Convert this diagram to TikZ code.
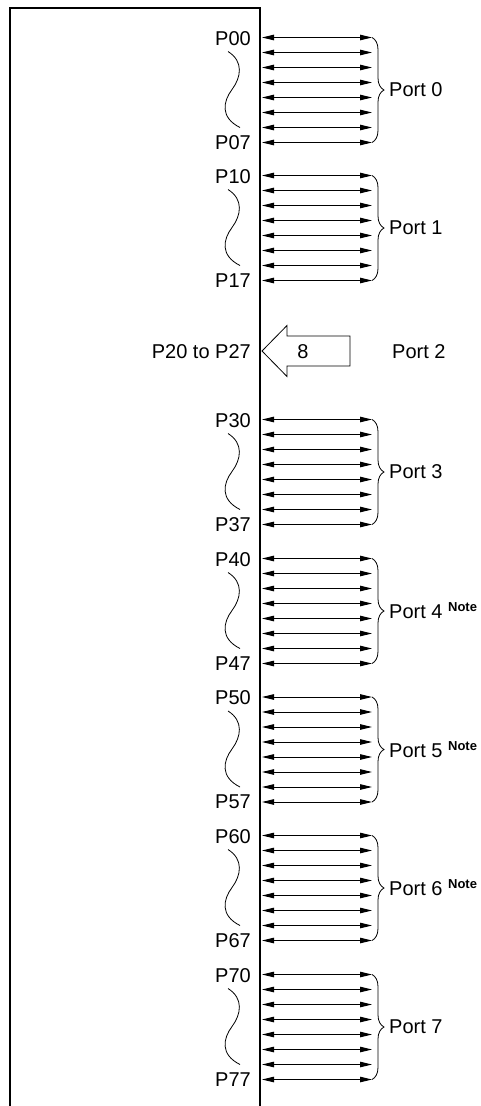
\documentclass[tikz,border=0pt]{standalone}
\usepackage{fontspec}
\setmainfont{Liberation Sans}
\usetikzlibrary{arrows.meta,decorations.pathreplacing}
\newcommand\notesup{\raisebox{7pt}{\fontsize{13}{13}\selectfont\bfseries Note}}
\begin{document}
\begin{tikzpicture}[x=1pt,y=-1pt,
  lbl/.style={inner sep=0pt,font=\fontsize{20}{20}\selectfont},
  sig/.style={line width=0.9pt,{Triangle[length=12pt,width=5.5pt]}-{Triangle[length=12pt,width=5.5pt]}},
  brc/.style={decorate,decoration={brace,amplitude=12pt},line width=0.8pt},
  wave/.style={line width=0.8pt},
  chip/.style={line width=2.5pt},
  bigarrow/.style={line width=0.8pt}]
\useasboundingbox (0,0) rectangle (481,1106);
\draw[chip] (10,1106) -- (10,8) -- (260,8) -- (260,1106);
\foreach \n/\s in {0/37.5,1/175.5,3/419.5,4/558.5,5/697,6/835.5,7/974.5}{
  \foreach \i in {0,...,7}{
    \coordinate (a\n\i) at (262,\s+15*\i);
    \coordinate (b\n\i) at (372,\s+15*\i);
    \draw[sig] (a\n\i) -- (b\n\i);
  }
  \node[lbl,anchor=east] (p\n0) at (251,\s+1) {P\n0};
  \node[lbl,anchor=east] (p\n7) at (251,\s+105) {P\n7};
  \draw[wave] (228,\s+14) .. controls (244,\s+24) and (241,\s+40) .. (232,\s+52)
              .. controls (223,\s+64) and (220,\s+80) .. (240,\s+90);
  \draw[brc] (b\n0) -- (b\n7);
}
\node[lbl,anchor=west] (port0) at (389,90) {Port 0};
\node[lbl,anchor=west] (port1) at (389,228) {Port 1};
\node[lbl,anchor=west] (port3) at (389,472) {Port 3};
\node[lbl,anchor=west] (port4) at (389,611) {Port 4 \notesup};
\node[lbl,anchor=west] (port5) at (389,749.5) {Port 5 \notesup};
\node[lbl,anchor=west] (port6) at (389,888) {Port 6 \notesup};
\node[lbl,anchor=west] (port7) at (389,1027) {Port 7};
% Port 2
\draw[bigarrow] (262,351) -- (287,325.5) -- (287,336) -- (350,336) -- (350,366)
   -- (287,366) -- (287,376.5) -- cycle;
\node[lbl] (eight) at (303,352) {8};
\node[lbl,anchor=east] (p2) at (251,352) {P20 to P27};
\node[lbl,anchor=west] (port2) at (392,352) {Port 2};
\end{tikzpicture}
\end{document}
